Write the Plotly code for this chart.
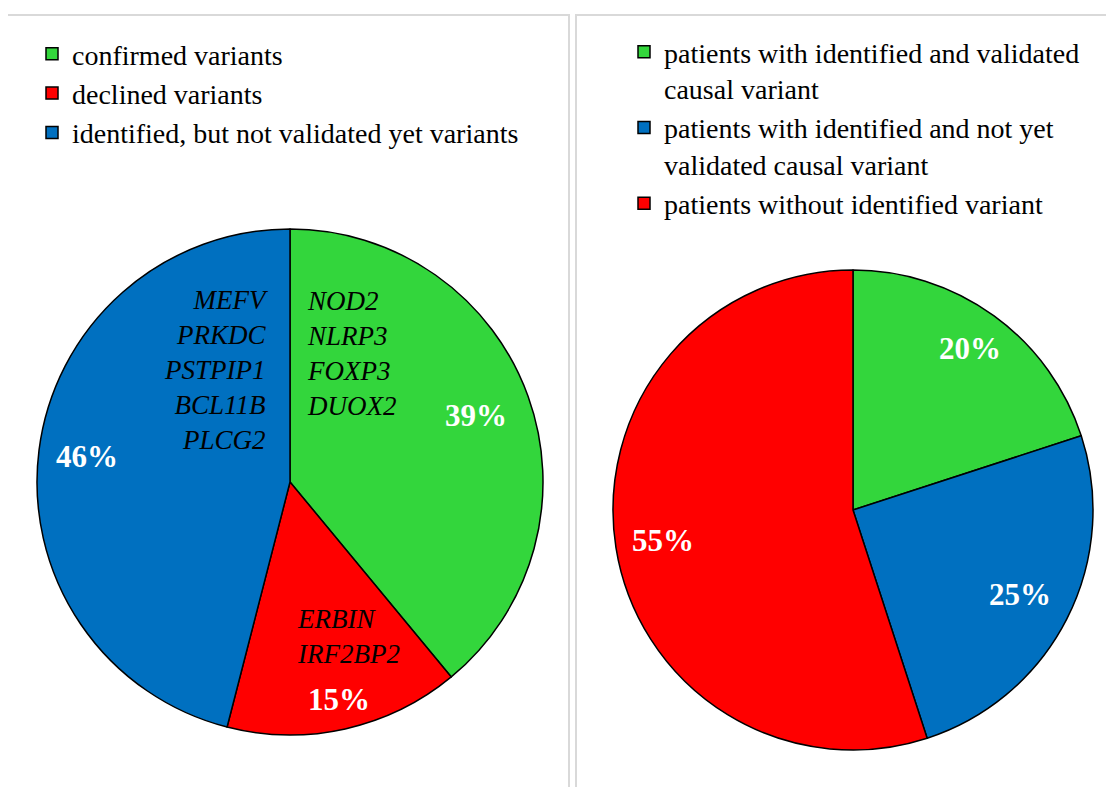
import math
import plotly.graph_objects as go

# ---------------- data ----------------
left_labels = ["confirmed variants", "declined variants", "identified, but not validated yet variants"]
left_values = [39, 15, 46]
left_colors = ["#33D63C", "#FF0000", "#0070C0"]
left_genes = [
    ["NOD2", "NLRP3", "FOXP3", "DUOX2"],
    ["ERBIN", "IRF2BP2"],
    ["MEFV", "PRKDC", "PSTPIP1", "BCL11B", "PLCG2"],
]

right_labels = [
    "patients with identified and validated<br>causal variant",
    "patients with identified and not yet<br>validated causal variant",
    "patients without identified variant",
]
right_values = [20, 25, 55]
right_colors = ["#33D63C", "#0070C0", "#FF0000"]

# ---------------- layout constants ----------------
W, H = 1114, 787
OFF = 8  # page body margin
FONT = "Liberation Serif"


def X(px):
    return (px - OFF) / W


def Y(py):
    return 1 - (py - OFF) / H


left_dom_px = dict(x=(37, 543), y=(229, 735))
right_dom_px = dict(x=(613, 1093), y=(270, 750))


def px_dom(d):
    return dict(x=[X(d["x"][0]), X(d["x"][1])],
                y=[Y(d["y"][1]), Y(d["y"][0])])


def geom(d):
    cx = (d["x"][0] + d["x"][1]) / 2
    cy = (d["y"][0] + d["y"][1]) / 2
    r = min(d["x"][1] - d["x"][0], d["y"][1] - d["y"][0]) / 2
    return cx, cy, r


fig = go.Figure()

fig.add_trace(go.Pie(
    labels=left_labels, values=left_values, sort=False, direction="clockwise",
    rotation=0, domain=px_dom(left_dom_px), textinfo="none", hoverinfo="label+percent",
    marker=dict(colors=left_colors, line=dict(color="#000000", width=1.5)),
    legend="legend", showlegend=True,
))
fig.add_trace(go.Pie(
    labels=right_labels, values=right_values, sort=False, direction="clockwise",
    rotation=0, domain=px_dom(right_dom_px), textinfo="none", hoverinfo="label+percent",
    marker=dict(colors=right_colors, line=dict(color="#000000", width=1.5)),
    legend="legend2", showlegend=True,
))

annotations = []


def pct_labels(values, d, frac):
    cx, cy, r = geom(d)
    total = sum(values)
    cum = 0
    for v, f in zip(values, frac):
        mid = (cum + v / 2) / total
        cum += v
        th = 2 * math.pi * mid
        x = cx + f * r * math.sin(th)
        y = cy - f * r * math.cos(th)
        annotations.append(dict(
            x=X(x), y=Y(y), xref="paper", yref="paper", showarrow=False,
            xanchor="center", yanchor="middle",
            text="<b>%d%%</b>" % round(100 * v / total),
            font=dict(family=FONT, size=31, color="white"),
        ))


pct_labels(left_values, left_dom_px, [0.78, 0.88, 0.81])
pct_labels(right_values, right_dom_px, [0.83, 0.78, 0.80])

# gene name blocks (offsets relative to the left pie centre)
cxl, cyl, rl = geom(left_dom_px)
gene_pos = [  # (dx, dy of block centre, xanchor, align)
    (15, -129, "left", "left"),
    (5, 154, "left", "left"),
    (-19, -112, "right", "right"),
]
for genes, (dx, dy, xa, al) in zip(left_genes, gene_pos):
    annotations.append(dict(
        x=X(cxl + dx), y=Y(cyl + dy), xref="paper", yref="paper",
        showarrow=False, xanchor=xa, yanchor="middle", align=al,
        text="<br>".join("<i>%s</i>" % g for g in genes),
        font=dict(family=FONT, size=27, color="black"),
    ))

shapes = [
    dict(type="rect", xref="paper", yref="paper", x0=X(7), x1=X(569),
         y0=-0.05, y1=Y(15), line=dict(color="#D9D9D9", width=2)),
    dict(type="rect", xref="paper", yref="paper", x0=X(576), x1=1.05,
         y0=-0.05, y1=Y(15), line=dict(color="#D9D9D9", width=2)),
]

fig.update_layout(
    width=W, height=H, margin=dict(l=0, r=0, t=0, b=0),
    paper_bgcolor="white", plot_bgcolor="white",
    font=dict(family=FONT, color="#000000"),
    annotations=annotations, shapes=shapes,
    legend=dict(x=X(32), y=Y(29), xanchor="left", yanchor="top",
                font=dict(family=FONT, size=28, color="black"),
                bgcolor="rgba(0,0,0,0)", traceorder="normal"),
    legend2=dict(x=X(624), y=Y(27), xanchor="left", yanchor="top", valign="top",
                 font=dict(family=FONT, size=28, color="black"),
                 bgcolor="rgba(0,0,0,0)", traceorder="normal"),
)

fig.write_html("out.html")
